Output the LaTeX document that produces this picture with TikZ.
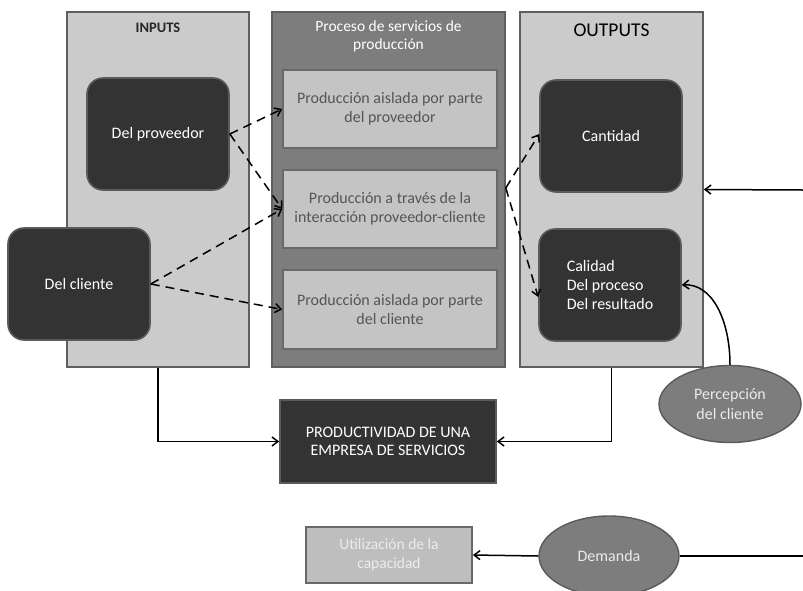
\documentclass[tikz,border=0pt]{standalone}
\usepackage{fontspec}
\setmainfont{Carlito}
\usetikzlibrary{arrows.meta,shapes.geometric}
\definecolor{outerfill}{RGB}{203,203,203}
\definecolor{outerdraw}{RGB}{95,95,95}
\definecolor{procfill}{RGB}{125,125,125}
\definecolor{innerfill}{RGB}{196,196,196}
\definecolor{innerdraw}{RGB}{105,105,105}
\definecolor{innertext}{RGB}{85,85,85}
\definecolor{darkfill}{RGB}{51,51,51}
\definecolor{darkdraw}{RGB}{90,90,90}
\definecolor{ellfill}{RGB}{125,125,125}
\definecolor{ellfdraw}{RGB}{90,90,90}
\tikzset{
  outerbox/.style={draw=outerdraw, line width=1.6pt, fill=outerfill, minimum width=#1, minimum height=355, inner sep=0pt},
  procbox/.style={draw=outerdraw, line width=1.6pt, fill=procfill, minimum width=233, minimum height=355, inner sep=0pt},
  innerbox/.style={draw=innerdraw, line width=1.6pt, fill=innerfill, minimum width=214, minimum height=78, inner sep=0pt, align=center, text=innertext, font=\fontsize{16}{19}\selectfont},
  darkbox/.style={draw=darkdraw, line width=1.6pt, fill=darkfill, rounded corners=16pt, minimum width=142, minimum height=112, inner sep=0pt, text=white, font=\fontsize{16}{19}\selectfont},
  ellnode/.style={ellipse, draw=ellfdraw, line width=1.4pt, fill=ellfill, inner sep=0pt, text=white!92!black, align=center, font=\fontsize{16}{20}\selectfont},
  arr/.style={draw=black, line width=1.5pt, -{Straight Barb[length=6pt,width=9pt,line width=1.5pt]}},
  darr/.style={arr, dash pattern=on 9pt off 6pt},
  titletext/.style={inner sep=0pt}
}
\begin{document}
\begin{tikzpicture}[x=1pt,y=-1pt]
\useasboundingbox (0,0) rectangle (803,590);
\fill[white] (0,0) rectangle (803,590);
% containers
\node[outerbox=182] (inputs) at (158,189.5) {};
\node[procbox] (proc) at (388.5,189.5) {};
\node[outerbox=183] (outputs) at (611.5,189.5) {};
% titles
\node[titletext, font=\fontsize{14.5}{16}\selectfont\bfseries, text=black!85] (tin) at (158,28) {INPUTS};
\node[titletext, font=\fontsize{19.5}{20}\selectfont, text=black] (tout) at (611.5,30) {OUTPUTS};
\node[titletext, font=\fontsize{15.5}{18}\selectfont, text=white, align=center] (tproc) at (388.5,36) {Proceso de servicios de\\producción};
% inner process boxes
\node[innerbox] (p1) at (390,109) {Producción aislada por parte\\del proveedor};
\node[innerbox] (p2) at (390,209) {Producción a través de la\\interacción proveedor-cliente};
\node[innerbox, minimum height=79] (p3) at (390,309.5) {Producción aislada por parte\\del cliente};
% dark nodes
\node[darkbox] (prov) at (158,134) {Del proveedor};
\node[darkbox] (cli) at (79,284) {Del cliente};
\node[darkbox] (cant) at (611,136) {Cantidad};
\node[darkbox, align=left] (cal) at (610,285) {Calidad\\Del proceso\\Del resultado};
% productivity
\node[draw=darkdraw, line width=1.6pt, fill=darkfill, minimum width=216, minimum height=83, inner sep=0pt, text=white, align=center, font=\fontsize{16}{18}\selectfont] (prod) at (388,441.5) {PRODUCTIVIDAD DE UNA\\EMPRESA DE SERVICIOS};
% capacity
\node[draw=innerdraw, line width=1.6pt, fill=innerfill!97!black, minimum width=166, minimum height=56, inner sep=0pt, text=white!93!black, align=center, font=\fontsize{15.5}{19}\selectfont] (util) at (389,555) {Utilización de la\\capacidad};
% ellipses
\node[ellnode, minimum width=140, minimum height=80] (dem) at (609,556) {Demanda};
\node[ellnode, minimum width=142, minimum height=77] (perc) at (730,404) {Percepción\\del cliente};
% free ends
\coordinate (rin) at (803,190);
\coordinate (rdem) at (803,556);
% dashed connectors
\draw[darr] (prov.east) -- (p1.west);
\draw[darr] (prov.east) -- (p2.west);
\draw[darr] (cli.east) -- (p2.west);
\draw[darr] (cli.east) -- (p3.west);
\draw[darr] (proc.east |- 0,188) -- ([yshift=2pt]cant.west);
\draw[darr] (proc.east |- 0,188) -- ([yshift=-12pt]cal.west);
% solid connectors
\draw[arr] (inputs.south) |- (prod.west);
\draw[arr] (outputs.south) |- (prod.east);
\draw[arr] (rin) -- (outputs.east);
\draw[line width=1.5pt] (rdem) -- (dem.east);
\draw[arr] (dem.west) -- (util.east);
\draw[arr] (perc.north) .. controls (730,320) and (712,283) .. (cal.east);
\end{tikzpicture}
\end{document}
